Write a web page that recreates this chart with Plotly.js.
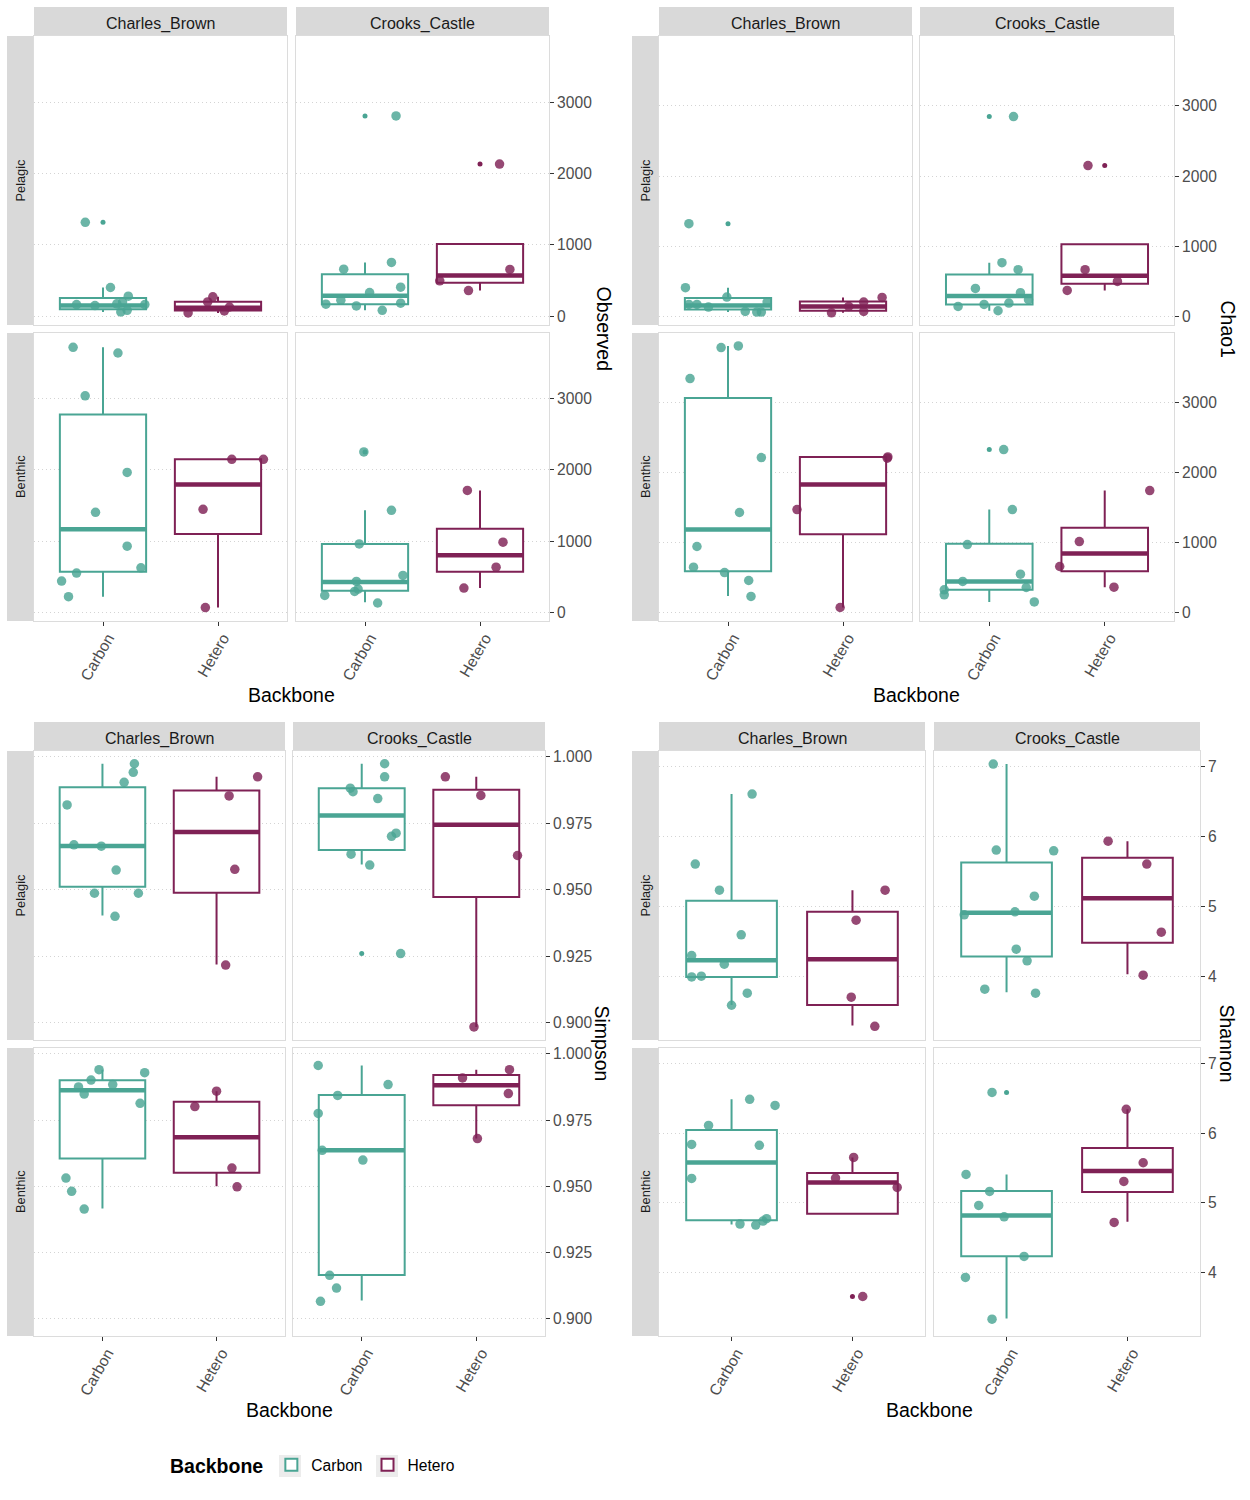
<!DOCTYPE html>
<html><head><meta charset="utf-8">
<script src="https://cdn.plot.ly/plotly-3.0.1.min.js"></script>
<style>body{margin:0;background:#fff}#chart{width:1250px;height:1500px}</style>
</head><body><div id="chart"></div>
<script>
// ---------- categories ----------
const backbones = ['Carbon', 'Hetero'];
const sites = ['Charles_Brown', 'Crooks_Castle'];
const habitats = ['Pelagic', 'Benthic'];
const metrics = ['Observed', 'Chao1', 'Simpson', 'Shannon'];

// ---------- tick values / ranges per metric ----------
const observedTicks = [0, 1000, 2000, 3000];
const chao1Ticks = [0, 1000, 2000, 3000];
const simpsonTicks = [0.900, 0.925, 0.950, 0.975, 1.000];
const shannonTicks = [4, 5, 6, 7];
const observedRange = [-122, 3925];
const chao1Range = [-122, 3995];
const simpsonRange = [0.8935, 1.0022];
const shannonRange = [3.094, 7.22];

// ---------- data: values, jitter offsets, box stats [q1, median, q3, lower whisker, upper whisker] ----------
// Observed
const obsPelCBCarbon = [1316, 403, 281, 164, 200, 175, 164, 150, 84, 61];
const obsPelCBCarbonJit = [-0.154, 0.065, 0.22, -0.23, 0.17, 0.12, 0.364, -0.07, 0.21, 0.155];
const obsPelCBCarbonBox = [100, 150, 255, 61, 403];
const obsPelCBHetero = [272, 201, 130, 75, 47];
const obsPelCBHeteroJit = [-0.045, -0.09, 0.1, 0.055, -0.26];
const obsPelCBHeteroBox = [80, 120, 205, 47, 272];
const obsPelCCCarbon = [2806, 754, 660, 407, 333, 225, 183, 169, 145, 84];
const obsPelCCCarbonJit = [0.27, 0.23, -0.185, 0.31, 0.04, -0.21, 0.31, -0.34, -0.075, 0.15];
const obsPelCCCarbonBox = [169, 286, 590, 84, 754];
const obsPelCCHetero = [2131, 656, 496, 360];
const obsPelCCHeteroJit = [0.17, 0.26, -0.35, -0.10];
const obsPelCCHeteroBox = [468, 571, 1012, 360, 1012];
const obsBenCBCarbon = [3724, 3644, 3042, 1965, 1405, 929, 625, 551, 439, 220];
const obsBenCBCarbonJit = [-0.26, 0.13, -0.155, 0.21, -0.065, 0.21, 0.33, -0.23, -0.36, -0.30];
const obsBenCBCarbonBox = [569, 1167, 2781, 220, 3724];
const obsBenCBHetero = [2150, 2150, 1447, 66];
const obsBenCBHeteroJit = [0.12, 0.395, -0.13, -0.11];
const obsBenCBHeteroBox = [1101, 1797, 2151, 66, 2151];
const obsBenCCCarbon = [2254, 1433, 961, 518, 434, 327, 294, 238, 131];
const obsBenCCCarbonJit = [-0.01, 0.23, -0.05, 0.33, -0.075, -0.06, -0.09, -0.35, 0.11];
const obsBenCCCarbonBox = [303, 425, 961, 140, 1433];
const obsBenCCHetero = [1713, 985, 635, 341];
const obsBenCCHeteroJit = [-0.11, 0.2, 0.14, -0.14];
const obsBenCCHeteroBox = [569, 803, 1176, 341, 1713];
// Chao1
const chaoPelCBCarbon = [1322, 409, 276, 204, 171, 171, 133, 71, 62, 62];
const chaoPelCBCarbonJit = [-0.34, -0.37, -0.01, 0.34, -0.34, -0.27, -0.17, 0.15, 0.25, 0.29];
const chaoPelCBCarbonBox = [100, 157, 262, 62, 409];
const chaoPelCBHetero = [270, 204, 143, 71, 52];
const chaoPelCBHeteroJit = [0.34, 0.18, 0.05, 0.18, -0.10];
const chaoPelCBHeteroBox = [81, 143, 214, 52, 270];
const chaoPelCCCarbon = [2848, 766, 666, 399, 338, 238, 190, 171, 143, 81];
const chaoPelCCCarbonJit = [0.21, 0.11, 0.25, -0.12, 0.27, 0.34, 0.17, -0.045, -0.27, 0.076];
const chaoPelCCCarbonBox = [171, 290, 599, 81, 766];
const chaoPelCCHetero = [2149, 666, 499, 370];
const chaoPelCCHeteroJit = [-0.145, -0.17, 0.11, -0.325];
const chaoPelCCHeteroBox = [466, 580, 1027, 370, 1027];
const chaoBenCBCarbon = [3810, 3786, 3343, 2214, 1429, 943, 648, 571, 457, 229];
const chaoBenCBCarbonJit = [0.09, -0.06, -0.33, 0.29, 0.10, -0.27, -0.30, -0.03, 0.18, 0.20];
const chaoBenCBCarbonBox = [590, 1186, 3067, 235, 3810];
const chaoBenCBHetero = [2224, 2205, 1471, 71];
const chaoBenCBHeteroJit = [0.39, 0.385, -0.40, -0.025];
const chaoBenCBHeteroBox = [1119, 1829, 2224, 71, 2224];
const chaoBenCCCarbon = [2329, 1471, 971, 548, 443, 357, 324, 252, 150];
const chaoBenCCCarbonJit = [0.125, 0.20, -0.19, 0.27, -0.23, 0.32, -0.39, -0.39, 0.39];
const chaoBenCCCarbonBox = [324, 443, 981, 150, 1471];
const chaoBenCCHetero = [1743, 1014, 657, 362];
const chaoBenCCHeteroJit = [0.39, -0.22, -0.39, 0.08];
const chaoBenCCHeteroBox = [590, 843, 1210, 362, 1743];
// Simpson
const simPelCBCarbon = [0.9974, 0.9942, 0.9904, 0.9819, 0.9669, 0.9664, 0.9574, 0.9487, 0.9487, 0.9400];
const simPelCBCarbonJit = [0.28, 0.27, 0.19, -0.31, -0.25, -0.01, 0.12, -0.07, 0.315, 0.11];
const simPelCBCarbonBox = [0.9511, 0.9665, 0.9886, 0.9403, 0.9974];
const simPelCBHetero = [0.9925, 0.9853, 0.9577, 0.9217];
const simPelCBHeteroJit = [0.36, 0.11, 0.16, 0.08];
const simPelCBHeteroBox = [0.9489, 0.9717, 0.9873, 0.9219, 0.9925];
const simPelCCCarbon = [0.9974, 0.9925, 0.9882, 0.9869, 0.9843, 0.9713, 0.9701, 0.9634, 0.9593, 0.9260];
const simPelCCCarbonJit = [0.20, 0.20, -0.10, -0.076, 0.14, 0.30, 0.26, -0.093, 0.07, 0.34];
const simPelCCCarbonBox = [0.9650, 0.9779, 0.9882, 0.9595, 0.9974];
const simPelCCHetero = [0.9925, 0.9855, 0.9629, 0.8984];
const simPelCCHeteroJit = [-0.27, 0.04, 0.36, -0.02];
const simPelCCHeteroBox = [0.9473, 0.9745, 0.9876, 0.8984, 0.9925];
const simBenCBCarbon = [0.9940, 0.9929, 0.9901, 0.9884, 0.9875, 0.9848, 0.9813, 0.9531, 0.9481, 0.9414];
const simBenCBCarbonJit = [-0.03, 0.37, -0.10, 0.09, -0.21, -0.16, 0.33, -0.32, -0.27, -0.16];
const simBenCBCarbonBox = [0.9605, 0.9863, 0.9900, 0.9416, 0.9940];
const simBenCBHetero = [0.9859, 0.9801, 0.9569, 0.9498];
const simBenCBHeteroJit = [0, -0.19, 0.135, 0.18];
const simBenCBHeteroBox = [0.9551, 0.9685, 0.9819, 0.9500, 0.9859];
const simBenCCCarbon = [0.9956, 0.9884, 0.9843, 0.9775, 0.9636, 0.9599, 0.9164, 0.9116, 0.9066];
const simBenCCCarbonJit = [-0.38, 0.23, -0.21, -0.38, -0.345, 0.01, -0.28, -0.22, -0.36];
const simBenCCCarbonBox = [0.9165, 0.9636, 0.9845, 0.9069, 0.9956];
const simBenCCHetero = [0.9940, 0.9909, 0.9850, 0.9680];
const simBenCCHeteroJit = [0.29, -0.12, 0.28, 0.01];
const simBenCCHeteroBox = [0.9806, 0.9881, 0.9920, 0.9680, 0.9940];
// Shannon
const shaPelCBCarbon = [6.605, 5.605, 5.233, 4.595, 4.300, 4.176, 3.995, 4.005, 3.762, 3.590];
const shaPelCBCarbonJit = [0.17, -0.30, -0.10, 0.08, -0.33, -0.06, -0.33, -0.25, 0.13, 0];
const shaPelCBCarbonBox = [3.995, 4.233, 5.081, 3.595, 6.605];
const shaPelCBHetero = [5.233, 4.805, 3.705, 3.290];
const shaPelCBHeteroJit = [0.27, 0.03, -0.01, 0.185];
const shaPelCBHeteroBox = [3.595, 4.248, 4.924, 3.300, 5.233];
const shaPelCCCarbon = [7.033, 5.805, 5.795, 5.148, 4.924, 4.881, 4.390, 4.224, 3.819, 3.762];
const shaPelCCCarbonJit = [-0.11, -0.085, 0.39, 0.23, 0.07, -0.35, 0.08, 0.17, -0.18, 0.24];
const shaPelCCCarbonBox = [4.286, 4.910, 5.629, 3.776, 7.033];
const shaPelCCHetero = [5.933, 5.605, 4.633, 4.019];
const shaPelCCHeteroJit = [-0.16, 0.16, 0.28, 0.13];
const shaPelCCHeteroBox = [4.481, 5.119, 5.695, 4.033, 5.933];
const shaBenCBCarbon = [6.484, 6.398, 6.111, 5.839, 5.825, 5.352, 4.774, 4.740, 4.697, 4.683];
const shaBenCBCarbonJit = [0.15, 0.36, -0.19, -0.33, 0.23, -0.33, 0.29, 0.26, 0.07, 0.20];
const shaBenCBCarbonBox = [4.754, 5.581, 6.044, 4.692, 6.484];
const shaBenCBHetero = [5.653, 5.356, 5.223, 3.660];
const shaBenCBHeteroJit = [0.01, -0.14, 0.37, 0.085];
const shaBenCBHeteroBox = [4.845, 5.294, 5.428, 4.845, 5.653];
const shaBenCCCarbon = [6.584, 5.409, 5.165, 4.965, 4.802, 4.234, 3.933, 3.335];
const shaBenCCCarbonJit = [-0.12, -0.335, -0.14, -0.23, -0.02, 0.145, -0.34, -0.12];
const shaBenCCCarbonBox = [4.238, 4.821, 5.170, 3.345, 5.409];
const shaBenCCHetero = [6.341, 5.576, 5.309, 4.721];
const shaBenCCHeteroJit = [-0.01, 0.13, -0.03, -0.11];
const shaBenCCHeteroBox = [5.156, 5.457, 5.786, 4.730, 6.341];

// ---------- assembly ----------
const metricTicks = [observedTicks, chao1Ticks, simpsonTicks, shannonTicks];
const metricRanges = [observedRange, chao1Range, simpsonRange, shannonRange];
const metricFormats = ['d', 'd', '.3f', 'd'];

// [metric, habitat, site, backbone, values, jitter, box]
const groups = [
  [0,0,0,0,obsPelCBCarbon,obsPelCBCarbonJit,obsPelCBCarbonBox],
  [0,0,0,1,obsPelCBHetero,obsPelCBHeteroJit,obsPelCBHeteroBox],
  [0,0,1,0,obsPelCCCarbon,obsPelCCCarbonJit,obsPelCCCarbonBox],
  [0,0,1,1,obsPelCCHetero,obsPelCCHeteroJit,obsPelCCHeteroBox],
  [0,1,0,0,obsBenCBCarbon,obsBenCBCarbonJit,obsBenCBCarbonBox],
  [0,1,0,1,obsBenCBHetero,obsBenCBHeteroJit,obsBenCBHeteroBox],
  [0,1,1,0,obsBenCCCarbon,obsBenCCCarbonJit,obsBenCCCarbonBox],
  [0,1,1,1,obsBenCCHetero,obsBenCCHeteroJit,obsBenCCHeteroBox],
  [1,0,0,0,chaoPelCBCarbon,chaoPelCBCarbonJit,chaoPelCBCarbonBox],
  [1,0,0,1,chaoPelCBHetero,chaoPelCBHeteroJit,chaoPelCBHeteroBox],
  [1,0,1,0,chaoPelCCCarbon,chaoPelCCCarbonJit,chaoPelCCCarbonBox],
  [1,0,1,1,chaoPelCCHetero,chaoPelCCHeteroJit,chaoPelCCHeteroBox],
  [1,1,0,0,chaoBenCBCarbon,chaoBenCBCarbonJit,chaoBenCBCarbonBox],
  [1,1,0,1,chaoBenCBHetero,chaoBenCBHeteroJit,chaoBenCBHeteroBox],
  [1,1,1,0,chaoBenCCCarbon,chaoBenCCCarbonJit,chaoBenCCCarbonBox],
  [1,1,1,1,chaoBenCCHetero,chaoBenCCHeteroJit,chaoBenCCHeteroBox],
  [2,0,0,0,simPelCBCarbon,simPelCBCarbonJit,simPelCBCarbonBox],
  [2,0,0,1,simPelCBHetero,simPelCBHeteroJit,simPelCBHeteroBox],
  [2,0,1,0,simPelCCCarbon,simPelCCCarbonJit,simPelCCCarbonBox],
  [2,0,1,1,simPelCCHetero,simPelCCHeteroJit,simPelCCHeteroBox],
  [2,1,0,0,simBenCBCarbon,simBenCBCarbonJit,simBenCBCarbonBox],
  [2,1,0,1,simBenCBHetero,simBenCBHeteroJit,simBenCBHeteroBox],
  [2,1,1,0,simBenCCCarbon,simBenCCCarbonJit,simBenCCCarbonBox],
  [2,1,1,1,simBenCCHetero,simBenCCHeteroJit,simBenCCHeteroBox],
  [3,0,0,0,shaPelCBCarbon,shaPelCBCarbonJit,shaPelCBCarbonBox],
  [3,0,0,1,shaPelCBHetero,shaPelCBHeteroJit,shaPelCBHeteroBox],
  [3,0,1,0,shaPelCCCarbon,shaPelCCCarbonJit,shaPelCCCarbonBox],
  [3,0,1,1,shaPelCCHetero,shaPelCCHeteroJit,shaPelCCHeteroBox],
  [3,1,0,0,shaBenCBCarbon,shaBenCBCarbonJit,shaBenCBCarbonBox],
  [3,1,0,1,shaBenCBHetero,shaBenCBHeteroJit,shaBenCBHeteroBox],
  [3,1,1,0,shaBenCCCarbon,shaBenCCCarbonJit,shaBenCCCarbonBox],
  [3,1,1,1,shaBenCCHetero,shaBenCCHeteroJit,shaBenCCHeteroBox]
];

const W = 1250, H = 1500;
const FONT = 'Liberation Sans, Arial, sans-serif';
const lineColors = ['#4AA594', '#7F2155'];
const BOXW = 0.75;

// pixel layout of each sub-figure
const geo = [
  {cols: [[34, 287], [296, 549]], rows: [[36, 325], [333, 621]], strip: [7, 36], lstrip: [7, 33], ytx: 603, xty: 695},
  {cols: [[659, 912], [920, 1174]], rows: [[36, 325], [333, 621]], strip: [7, 36], lstrip: [632, 658], ytx: 1227, xty: 695},
  {cols: [[34, 285], [293, 545]], rows: [[751, 1040], [1048, 1336]], strip: [722, 751], lstrip: [7, 33], ytx: 602, xty: 1410},
  {cols: [[659, 925], [934, 1200]], rows: [[751, 1040], [1048, 1336]], strip: [722, 751], lstrip: [632, 658], ytx: 1227, xty: 1410}
];
const px = v => v / W;
const py = v => 1 - v / H;

const layout = {
  width: W, height: H, margin: {l: 0, r: 0, t: 0, b: 0},
  paper_bgcolor: '#fff', plot_bgcolor: '#fff',
  font: {family: FONT, color: '#000'},
  boxmode: 'overlay', hovermode: false, showlegend: true,
  legend: {
    orientation: 'h', x: 168 / W, xanchor: 'left', y: py(1466), yanchor: 'middle',
    font: {family: FONT, size: 15.6, color: '#000'}, bgcolor: 'rgba(0,0,0,0)',
    title: {text: '<b>Backbone</b>', side: 'left', font: {family: FONT, size: 19.5, color: '#000'}}
  },
  shapes: [], annotations: []
};

// grey backgrounds of the legend keys
[290, 387].forEach(cx => {
  layout.shapes.push({type: 'rect', xref: 'paper', yref: 'paper', layer: 'above',
    x0: px(cx - 11), x1: px(cx + 11), y0: py(1477), y1: py(1455),
    fillcolor: '#ececec', line: {width: 0}});
});

for (let m = 0; m < 4; m++) {
  const g = geo[m];
  for (let h = 0; h < 2; h++) {
    for (let s = 0; s < 2; s++) {
      const k = m * 4 + h * 2 + s + 1;
      const suf = k === 1 ? '' : String(k);
      layout['xaxis' + suf] = {
        domain: [px(g.cols[s][0]), px(g.cols[s][1])], anchor: 'y' + suf,
        range: [0.4, 2.6], tickvals: [1, 2], ticktext: backbones,
        showticklabels: h === 1, ticks: h === 1 ? 'outside' : '', ticklen: 4, tickcolor: '#333',
        tickangle: -60, tickfont: {family: FONT, size: 15.6, color: '#4d4d4d'},
        ticklabelshift: 5, ticklabelstandoff: -3,
        showgrid: false, zeroline: false, showline: true, mirror: true, linecolor: '#dcdcdc', linewidth: 1,
        automargin: false, fixedrange: true
      };
      layout['yaxis' + suf] = {
        domain: [py(g.rows[h][1]), py(g.rows[h][0])], anchor: 'x' + suf,
        range: metricRanges[m], tickvals: metricTicks[m], tickformat: metricFormats[m],
        side: s === 1 ? 'right' : 'left', showticklabels: s === 1, ticks: s === 1 ? 'outside' : '',
        ticklen: 4, tickcolor: '#333', tickfont: {family: FONT, size: 15.6, color: '#4d4d4d'},
        showgrid: true, gridcolor: '#d4d4d4', griddash: '1px,3px', gridwidth: 1,
        zeroline: false, showline: true, mirror: true, linecolor: '#dcdcdc', linewidth: 1,
        automargin: false, fixedrange: true
      };
    }
  }
  // top strips
  for (let s = 0; s < 2; s++) {
    layout.shapes.push({type: 'rect', xref: 'paper', yref: 'paper', layer: 'below',
      x0: px(g.cols[s][0]), x1: px(g.cols[s][1]), y0: py(g.strip[1]), y1: py(g.strip[0]),
      fillcolor: '#d9d9d9', line: {width: 0}});
    layout.annotations.push({xref: 'paper', yref: 'paper', showarrow: false,
      x: px((g.cols[s][0] + g.cols[s][1]) / 2), y: py((g.strip[0] + g.strip[1]) / 2 + 2.5),
      xanchor: 'center', yanchor: 'middle', text: sites[s],
      font: {family: FONT, size: 16, color: '#1a1a1a'}});
  }
  // side strips
  for (let h = 0; h < 2; h++) {
    layout.shapes.push({type: 'rect', xref: 'paper', yref: 'paper', layer: 'below',
      x0: px(g.lstrip[0]), x1: px(g.lstrip[1]), y0: py(g.rows[h][1]), y1: py(g.rows[h][0]),
      fillcolor: '#d9d9d9', line: {width: 0}});
    layout.annotations.push({xref: 'paper', yref: 'paper', showarrow: false,
      x: px((g.lstrip[0] + g.lstrip[1]) / 2), y: py((g.rows[h][0] + g.rows[h][1]) / 2),
      xanchor: 'center', yanchor: 'middle', textangle: -90, text: habitats[h],
      font: {family: FONT, size: 12.8, color: '#1a1a1a'}});
  }
  // axis titles
  layout.annotations.push({xref: 'paper', yref: 'paper', showarrow: false,
    x: px(g.ytx), y: py((g.rows[0][0] + g.rows[1][1]) / 2), xanchor: 'center', yanchor: 'middle',
    textangle: 90, text: metrics[m], font: {family: FONT, size: 19.5, color: '#000'}});
  layout.annotations.push({xref: 'paper', yref: 'paper', showarrow: false,
    x: px((g.cols[0][0] + g.cols[1][1]) / 2), y: py(g.xty), xanchor: 'center', yanchor: 'middle',
    text: 'Backbone', font: {family: FONT, size: 19.5, color: '#000'}});
}

const traces = [];
const legendShown = [false, false];
groups.forEach(([m, h, s, b, vals, jit, box]) => {
  const k = m * 4 + h * 2 + s + 1;
  const xa = 'x' + (k === 1 ? '' : k), ya = 'y' + (k === 1 ? '' : k);
  const pos = b + 1;
  const col = lineColors[b];
  const showL = !legendShown[b];
  legendShown[b] = true;
  traces.push({type: 'box', x: [pos], q1: [box[0]], median: [box[1]], q3: [box[2]],
    lowerfence: [box[3]], upperfence: [box[4]], width: BOXW, whiskerwidth: 0,
    fillcolor: '#ffffff', line: {color: col, width: 2}, boxpoints: false,
    xaxis: xa, yaxis: ya, name: backbones[b], legendgroup: backbones[b], showlegend: showL, hoverinfo: 'skip'});
  traces.push({type: 'scatter', mode: 'lines', x: [pos - BOXW / 2, pos + BOXW / 2], y: [box[1], box[1]],
    line: {color: col, width: 4.5}, xaxis: xa, yaxis: ya, showlegend: false, hoverinfo: 'skip'});
  const iqr = box[2] - box[0];
  const out = vals.filter(v => v < box[0] - 1.5 * iqr || v > box[2] + 1.5 * iqr);
  traces.push({type: 'scatter', mode: 'markers', x: out.map(() => pos), y: out,
    marker: {size: 5, color: col}, xaxis: xa, yaxis: ya, showlegend: false, hoverinfo: 'skip', cliponaxis: false});
  traces.push({type: 'scatter', mode: 'markers', x: jit.map(j => pos + j), y: vals,
    marker: {size: 9.5, color: col, opacity: 0.82}, xaxis: xa, yaxis: ya, showlegend: false, hoverinfo: 'skip', cliponaxis: false});
});

Plotly.newPlot('chart', traces, layout, {staticPlot: true, displayModeBar: false});
</script>
</body></html>
